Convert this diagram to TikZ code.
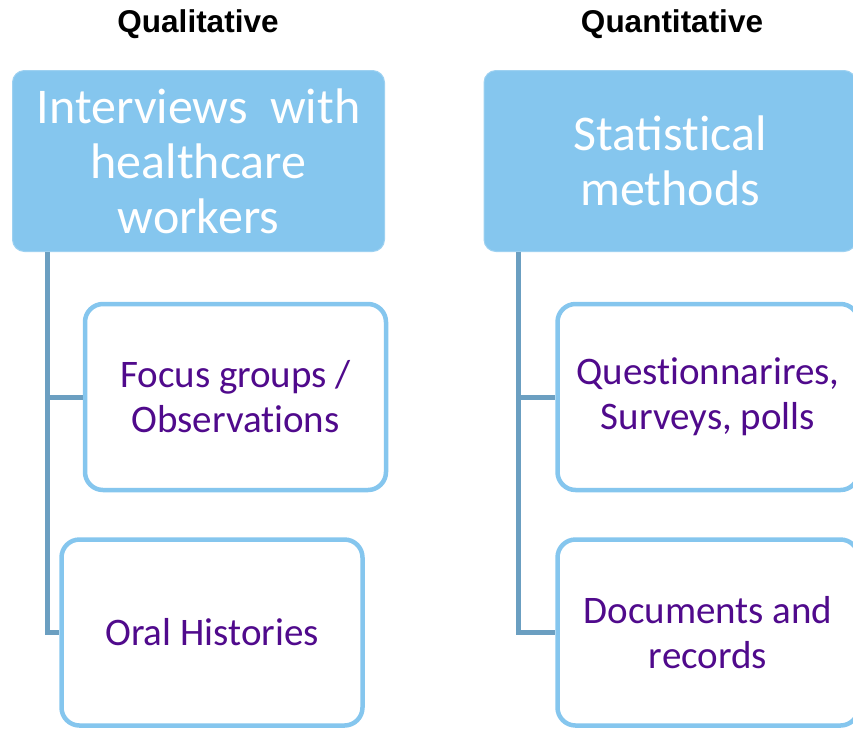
\documentclass[tikz,border=0pt]{standalone}
\usepackage{fontspec}
\setmainfont{Carlito}
\newfontfamily\headfont{Liberation Sans}
\newcommand\brk{\kern0pt}
\definecolor{boxblue}{HTML}{85C6EE}
\definecolor{linkblue}{HTML}{6B9FC1}
\definecolor{itempurple}{HTML}{500A8C}
\begin{document}
\begin{tikzpicture}[x=1pt, y=-1pt,
  head/.style = {font=\headfont\bfseries\fontsize{31.5}{34}\selectfont},
  top/.style = {fill=boxblue, draw=boxblue!80!white, line width=1pt, rounded corners=12pt, text=white, align=center, inner sep=0pt, minimum width=372pt, minimum height=181pt, font=\fontsize{50}{55}\selectfont},
  sub/.style = {draw=boxblue, fill=white, line width=4.5pt, rounded corners=18pt, text=itempurple, align=center, inner sep=0pt, minimum width=301pt, minimum height=186pt, font=\fontsize{39}{45}\selectfont},
  link/.style = {draw=linkblue, line width=5pt}]
  \useasboundingbox (0,0) rectangle (853,729);
  \clip (0,0) rectangle (853,729);
  \node[head] (ql-t) at (198,24) {Qualitative};
  \node[head] (qn-t) at (672,24) {Quantitative};
  \node[top] (ql) at (198.5,161) {Interviews\ \ with\\healthcare\\workers};
  \node[top] (qn) at (670,161) {Statist\brk ical\\methods};
  \node[sub] (ql-0) at (235.5,397) {Focus groups /\\Observat\brk ions};
  \node[sub] (ql-1) at (212,632.5) {Oral Histories};
  \node[sub] (qn-0) at (708,397) {Quest\brk ionnarires,\\Surveys, polls};
  \node[sub] (qn-1) at (708,632.5) {Documents and\\records};
  \draw[link] ([xshift=35pt]ql.south west) |- (ql-0.west);
  \draw[link] ([xshift=35pt]ql.south west) |- (ql-1.west);
  \draw[link] ([xshift=35pt]qn.south west) |- (qn-0.west);
  \draw[link] ([xshift=35pt]qn.south west) |- (qn-1.west);
\end{tikzpicture}
\end{document}
